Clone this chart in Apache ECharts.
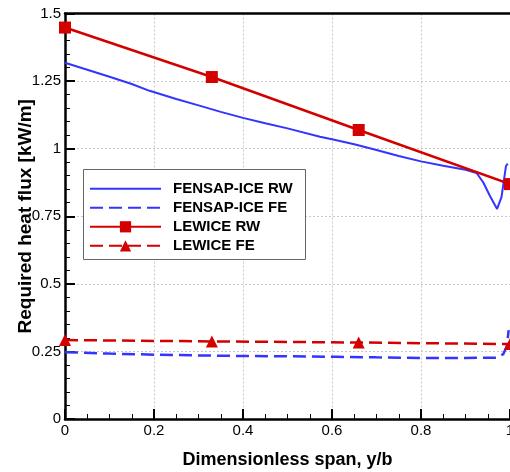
<!DOCTYPE html>
<html>
<head>
<meta charset="utf-8">
<script src="https://cdn.jsdelivr.net/npm/echarts@6/dist/echarts.min.js"></script>
<style>
html,body{margin:0;padding:0;background:#fff;}
#chart{width:510px;height:472px;}
</style>
</head>
<body>
<div id="chart"></div>
<script>
// ---- data ----
var seriesNames = ['FENSAP-ICE RW', 'FENSAP-ICE FE', 'LEWICE RW', 'LEWICE FE'];

var fensapRwX = [0, 0.05, 0.1, 0.15, 0.19, 0.25, 0.3, 0.35, 0.4, 0.45, 0.5, 0.573, 0.6, 0.65, 0.7, 0.75, 0.8, 0.85, 0.9, 0.925, 0.94, 0.955, 0.971, 0.981, 0.991, 0.995];
var fensapRwY = [1.318, 1.292, 1.266, 1.239, 1.214, 1.184, 1.16, 1.136, 1.114, 1.094, 1.075, 1.044, 1.035, 1.016, 0.995, 0.973, 0.953, 0.937, 0.922, 0.91, 0.875, 0.825, 0.777, 0.822, 0.936, 0.945];

var fensapFeX = [0, 0.1, 0.2, 0.3, 0.4, 0.5, 0.61, 0.7, 0.8, 0.9, 0.97, 0.985, 0.993, 0.997];
var fensapFeY = [0.247, 0.242, 0.238, 0.235, 0.233, 0.232, 0.230, 0.228, 0.226, 0.226, 0.227, 0.24, 0.27, 0.329];

var lewiceX = [0, 0.33, 0.66, 1.0];
var lewiceRwY = [1.448, 1.265, 1.069, 0.869];
var lewiceFeY = [0.292, 0.287, 0.283, 0.277];

var xTicks = {min: 0, max: 1, interval: 0.2};
var yTicks = {min: 0, max: 1.5, interval: 0.25};

function pairs(xs, ys) { return xs.map(function (x, i) { return [x, ys[i]]; }); }

var blue = '#3434ff';
var red = '#d40000';
var font = 'Arial, "Liberation Sans", Helvetica, sans-serif';

var chart = echarts.init(document.getElementById('chart'), null, {renderer: 'canvas'});

var splitLineStyle = {show: true, lineStyle: {color: '#c8c8c8', type: [2, 2], width: 1}};

chart.setOption({
  animation: false,
  backgroundColor: '#fff',
  grid: {left: 65, right: 0, top: 13.5, bottom: 53, containLabel: false, outerBoundsMode: 'none'},
  xAxis: [{
    type: 'value',
    min: xTicks.min, max: xTicks.max, interval: xTicks.interval,
    name: 'Dimensionless span, y/b',
    nameLocation: 'middle',
    nameGap: 32,
    nameMoveOverlap: false,
    nameTextStyle: {fontFamily: font, fontSize: 18, fontWeight: 'bold', color: '#000'},
    axisLine: {show: true, onZero: false, lineStyle: {color: '#000', width: 2.5}},
    axisTick: {show: true, inside: true, length: 10, lineStyle: {color: '#000', width: 2}},
    minorTick: {show: true, splitNumber: 4, length: 5, lineStyle: {color: '#000', width: 1}},
    axisLabel: {fontFamily: font, fontSize: 15, color: '#000', margin: 4, hideOverlap: false,
      formatter: function (v) { return String(Math.round(v * 100) / 100); }},
    splitLine: splitLineStyle
  }, {
    type: 'value', position: 'top',
    min: xTicks.min, max: xTicks.max,
    axisLine: {show: true, onZero: false, lineStyle: {color: '#000', width: 2.5}},
    axisTick: {show: false}, axisLabel: {show: false}, splitLine: {show: false}
  }],
  yAxis: [{
    type: 'value',
    min: yTicks.min, max: yTicks.max, interval: yTicks.interval,
    name: 'Required heat flux [kW/m]',
    nameLocation: 'middle',
    nameGap: 30,
    nameMoveOverlap: false,
    nameTextStyle: {fontFamily: font, fontSize: 19, fontWeight: 'bold', color: '#000'},
    axisLine: {show: true, onZero: false, lineStyle: {color: '#000', width: 2.5}},
    axisTick: {show: true, inside: true, length: 10, lineStyle: {color: '#000', width: 2}},
    minorTick: {show: true, splitNumber: 5, length: 5, lineStyle: {color: '#000', width: 1}},
    axisLabel: {fontFamily: font, fontSize: 15, color: '#000', margin: 4,
      formatter: function (v) { return String(Math.round(v * 100) / 100); }},
    splitLine: splitLineStyle
  }],
  legend: {
    orient: 'vertical',
    left: 83, top: 169.3,
    padding: [12, 7, 6, 6],
    itemWidth: 71, itemHeight: 14, itemGap: 4,
    backgroundColor: 'transparent',
    textStyle: {fontFamily: font, fontSize: 15, fontWeight: 'bold', color: '#000', lineHeight: 15, padding: [0, 0, 0, 7]},
    data: [
      {name: seriesNames[0], itemStyle: {opacity: 0}},
      {name: seriesNames[1], itemStyle: {opacity: 0}},
      {name: seriesNames[2]},
      {name: seriesNames[3]}
    ],
    z: 6
  },
  graphic: [{
    type: 'rect', z: 5, silent: true,
    shape: {x: 83.5, y: 169.5, width: 222, height: 90},
    style: {fill: '#fff', stroke: '#666', lineWidth: 1}
  }],
  series: [{
    name: seriesNames[0], type: 'line', symbol: 'none',
    data: pairs(fensapRwX, fensapRwY),
    lineStyle: {color: blue, width: 2}, itemStyle: {color: blue}
  }, {
    name: seriesNames[1], type: 'line', symbol: 'none',
    data: pairs(fensapFeX, fensapFeY),
    lineStyle: {color: blue, width: 2.5, type: [13, 6]}, itemStyle: {color: blue}
  }, {
    name: seriesNames[2], type: 'line', symbol: 'rect', symbolSize: 12,
    data: pairs(lewiceX, lewiceRwY),
    lineStyle: {color: red, width: 2.5}, itemStyle: {color: red}
  }, {
    name: seriesNames[3], type: 'line', symbol: 'triangle', symbolSize: 12,
    data: pairs(lewiceX, lewiceFeY),
    lineStyle: {color: red, width: 2.5, type: [13, 6]}, itemStyle: {color: red}
  }]
});
</script>
</body>
</html>
